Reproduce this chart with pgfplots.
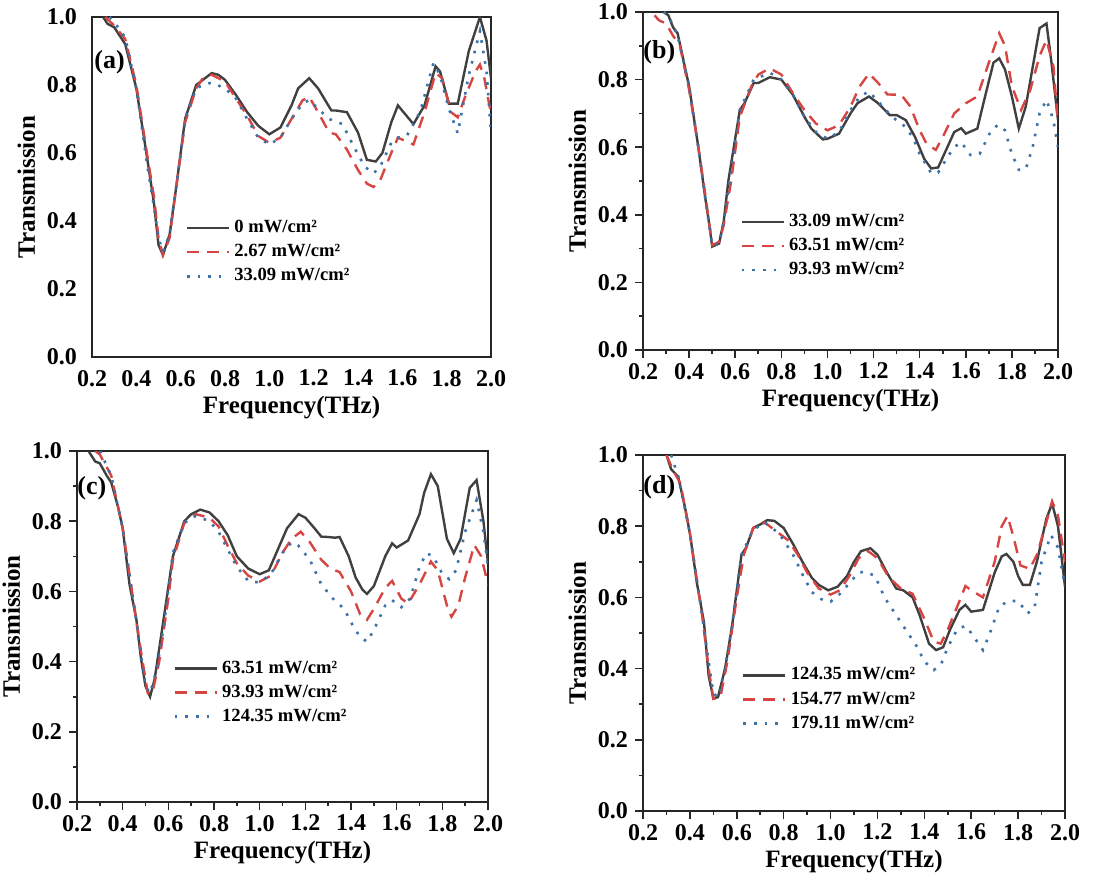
\documentclass[border=0pt]{standalone}
\usepackage{pgfplots}
\pgfplotsset{compat=1.18}
\usepackage{fontspec}
\setmainfont{Liberation Serif}

\definecolor{cblack}{HTML}{404040}
\definecolor{cred}{HTML}{D64541}
\definecolor{cblue}{HTML}{3C72AA}

\pgfplotsset{
  panel/.style={
    scale only axis,
    anchor=south west,
    xmin=0.2, xmax=2.0, ymin=0, ymax=1.0,
    xtick={0.2,0.4,...,2.01}, ytick={0,0.2,...,1.01},
    xtick pos=bottom, ytick pos=left,
    tick align=outside,
    minor tick num=1,
    major tick length=4pt, minor tick length=2pt,
    axis line style={line width=0.9pt, black!85},
    every tick/.style={line width=0.8pt, black!85},
    tick label style={font=\fontsize{12}{14}\selectfont\bfseries},
    xticklabel style={yshift=1pt},
    /pgf/number format/assume math mode=true,
    /pgf/number format/.cd, fixed, fixed zerofill, precision=1, /pgfplots/.cd,
    xlabel={Frequency(THz)}, ylabel={Transmission},
    label style={font=\fontsize{12.5}{14}\selectfont\bfseries},
    xlabel style={yshift=2pt},
    ylabel style={yshift=-1pt},
    legend cell align=left,
    legend style={at={(0.234,0.415)}, anchor=north west, draw=none, fill=none,
      font=\fontsize{9.3}{11}\selectfont\bfseries, inner sep=0pt,
      row sep=0.4pt},
    legend image code/.code={\draw[#1] (0pt,0pt) -- (21pt,0pt);},
    clip=true,
  },
  s1/.style={cblack, line width=1.2pt, solid},
  s2/.style={cred, line width=1.2pt, dash pattern=on 6pt off 4pt},
  s3/.style={cblue, line width=1.3pt, dash pattern=on 1.3pt off 4pt},
}

\begin{document}
\begin{tikzpicture}
\path[use as bounding box] (0,0) rectangle (556pt,439.5pt);

% (a) - no tick marks drawn in this panel
\begin{axis}[panel, at={(46pt,261pt)}, width=199.5pt, height=170pt,
  every tick/.style={draw=none}]
\addplot[s1] coordinates {(0.25,1.0) (0.27,0.98) (0.30,0.97) (0.35,0.92) (0.40,0.79) (0.45,0.58) (0.48,0.45) (0.50,0.33) (0.52,0.30) (0.55,0.36) (0.58,0.50) (0.62,0.70) (0.67,0.80) (0.70,0.815) (0.74,0.835) (0.77,0.83) (0.80,0.815) (0.85,0.77) (0.90,0.72) (0.95,0.68) (1.00,0.655) (1.05,0.675) (1.10,0.74) (1.13,0.79) (1.18,0.82) (1.22,0.79) (1.28,0.725) (1.30,0.725) (1.35,0.72) (1.40,0.66) (1.44,0.58) (1.48,0.575) (1.51,0.60) (1.55,0.69) (1.58,0.74) (1.65,0.685) (1.70,0.74) (1.75,0.855) (1.77,0.84) (1.81,0.745) (1.85,0.745) (1.90,0.90) (1.95,1.0) (1.98,0.93) (2.00,0.82)};
\addlegendentry{0 mW/cm²}
\addplot[s2] coordinates {(0.26,1.0) (0.30,0.975) (0.35,0.935) (0.40,0.80) (0.45,0.59) (0.48,0.47) (0.50,0.35) (0.52,0.30) (0.55,0.35) (0.58,0.50) (0.62,0.69) (0.67,0.79) (0.70,0.82) (0.74,0.83) (0.80,0.81) (0.85,0.76) (0.90,0.71) (0.95,0.65) (1.00,0.63) (1.05,0.645) (1.10,0.70) (1.15,0.755) (1.18,0.765) (1.22,0.72) (1.27,0.66) (1.30,0.655) (1.35,0.61) (1.40,0.55) (1.44,0.51) (1.47,0.50) (1.50,0.52) (1.55,0.60) (1.58,0.645) (1.65,0.625) (1.70,0.72) (1.75,0.835) (1.78,0.82) (1.82,0.72) (1.85,0.705) (1.88,0.76) (1.93,0.84) (1.95,0.86) (1.97,0.82) (2.00,0.715)};
\addlegendentry{2.67 mW/cm²}
\addplot[s3] coordinates {(0.28,1.0) (0.30,0.985) (0.35,0.94) (0.40,0.79) (0.45,0.56) (0.48,0.44) (0.50,0.35) (0.52,0.31) (0.55,0.36) (0.58,0.50) (0.62,0.70) (0.67,0.79) (0.70,0.80) (0.74,0.807) (0.80,0.79) (0.85,0.76) (0.90,0.70) (0.95,0.645) (1.00,0.625) (1.05,0.645) (1.10,0.70) (1.15,0.745) (1.18,0.756) (1.22,0.73) (1.27,0.70) (1.33,0.685) (1.38,0.62) (1.43,0.56) (1.47,0.54) (1.50,0.56) (1.55,0.63) (1.58,0.645) (1.62,0.65) (1.68,0.72) (1.74,0.864) (1.77,0.83) (1.81,0.73) (1.85,0.658) (1.90,0.83) (1.95,0.958) (1.98,0.84) (2.00,0.66)};
\addlegendentry{33.09 mW/cm²}
\node[font=\fontsize{13}{15}\selectfont\bfseries, anchor=west, inner sep=0pt] at (rel axis cs:0.005,0.868) {(a)};
\end{axis}

% (b)
\begin{axis}[panel, at={(321.5pt,264.5pt)}, width=207.5pt, height=169pt]
\addplot[s1] coordinates {(0.29,1.0) (0.31,0.99) (0.33,0.955) (0.35,0.937) (0.40,0.78) (0.44,0.60) (0.47,0.45) (0.49,0.36) (0.50,0.306) (0.53,0.315) (0.55,0.38) (0.57,0.50) (0.62,0.71) (0.64,0.73) (0.68,0.79) (0.70,0.79) (0.75,0.807) (0.80,0.80) (0.85,0.755) (0.90,0.69) (0.93,0.655) (0.98,0.623) (1.00,0.625) (1.05,0.64) (1.10,0.70) (1.13,0.73) (1.18,0.75) (1.22,0.73) (1.27,0.695) (1.30,0.695) (1.34,0.68) (1.38,0.63) (1.42,0.565) (1.45,0.537) (1.48,0.54) (1.52,0.60) (1.55,0.645) (1.58,0.656) (1.60,0.64) (1.65,0.655) (1.68,0.74) (1.72,0.85) (1.745,0.863) (1.77,0.83) (1.80,0.75) (1.83,0.655) (1.86,0.72) (1.92,0.952) (1.95,0.966) (1.97,0.86) (2.00,0.68)};
\addlegendentry{33.09 mW/cm²}
\addplot[s2] coordinates {(0.25,0.99) (0.27,0.975) (0.30,0.966) (0.33,0.93) (0.36,0.90) (0.40,0.77) (0.44,0.60) (0.47,0.46) (0.50,0.31) (0.53,0.32) (0.55,0.37) (0.58,0.49) (0.62,0.69) (0.67,0.78) (0.70,0.815) (0.75,0.833) (0.80,0.815) (0.85,0.76) (0.90,0.71) (0.95,0.67) (1.00,0.65) (1.05,0.665) (1.10,0.72) (1.14,0.78) (1.18,0.818) (1.22,0.79) (1.26,0.756) (1.32,0.755) (1.36,0.72) (1.40,0.65) (1.43,0.61) (1.47,0.592) (1.50,0.63) (1.55,0.70) (1.60,0.73) (1.65,0.75) (1.70,0.85) (1.745,0.937) (1.77,0.90) (1.80,0.78) (1.84,0.71) (1.88,0.77) (1.92,0.87) (1.95,0.917) (1.98,0.84) (2.00,0.67)};
\addlegendentry{63.51 mW/cm²}
\addplot[s3] coordinates {(0.29,1.0) (0.31,0.99) (0.35,0.93) (0.40,0.78) (0.44,0.60) (0.47,0.45) (0.50,0.31) (0.53,0.315) (0.55,0.38) (0.58,0.52) (0.62,0.71) (0.68,0.80) (0.75,0.82) (0.80,0.80) (0.85,0.755) (0.90,0.69) (0.95,0.645) (1.00,0.625) (1.05,0.645) (1.10,0.71) (1.14,0.75) (1.18,0.765) (1.22,0.735) (1.28,0.69) (1.33,0.665) (1.37,0.63) (1.40,0.58) (1.45,0.523) (1.48,0.525) (1.52,0.57) (1.55,0.60) (1.58,0.615) (1.62,0.577) (1.66,0.58) (1.71,0.65) (1.74,0.666) (1.77,0.65) (1.80,0.58) (1.83,0.533) (1.86,0.535) (1.89,0.60) (1.92,0.70) (1.95,0.74) (1.98,0.68) (2.00,0.60)};
\addlegendentry{93.93 mW/cm²}
\node[font=\fontsize{13}{15}\selectfont\bfseries, anchor=west, inner sep=0pt] at (rel axis cs:0.0,0.88) {(b)};
\end{axis}

% (c)
\begin{axis}[panel, at={(38.5pt,38.5pt)}, width=205.5pt, height=175.5pt]
\addplot[s1] coordinates {(0.25,1.0) (0.28,0.97) (0.30,0.965) (0.33,0.93) (0.35,0.91) (0.38,0.84) (0.40,0.78) (0.43,0.62) (0.46,0.52) (0.48,0.41) (0.50,0.33) (0.52,0.30) (0.54,0.35) (0.57,0.48) (0.62,0.70) (0.67,0.80) (0.70,0.82) (0.74,0.833) (0.78,0.825) (0.82,0.80) (0.86,0.76) (0.90,0.70) (0.95,0.665) (1.00,0.649) (1.04,0.66) (1.08,0.72) (1.12,0.78) (1.17,0.82) (1.20,0.81) (1.24,0.78) (1.27,0.756) (1.30,0.755) (1.33,0.753) (1.35,0.755) (1.39,0.70) (1.42,0.64) (1.45,0.605) (1.47,0.593) (1.50,0.615) (1.55,0.70) (1.58,0.737) (1.60,0.725) (1.65,0.745) (1.70,0.82) (1.72,0.88) (1.75,0.934) (1.78,0.90) (1.82,0.75) (1.85,0.709) (1.88,0.75) (1.92,0.895) (1.95,0.917) (1.98,0.80) (2.00,0.68)};
\addlegendentry{63.51 mW/cm²}
\addplot[s2] coordinates {(0.28,1.0) (0.30,0.99) (0.35,0.93) (0.40,0.78) (0.45,0.56) (0.48,0.43) (0.51,0.31) (0.53,0.31) (0.56,0.40) (0.60,0.58) (0.62,0.69) (0.67,0.795) (0.72,0.82) (0.78,0.81) (0.82,0.785) (0.86,0.73) (0.90,0.68) (0.95,0.645) (1.00,0.628) (1.05,0.645) (1.10,0.71) (1.14,0.75) (1.18,0.77) (1.22,0.74) (1.27,0.69) (1.31,0.665) (1.35,0.655) (1.40,0.60) (1.44,0.535) (1.47,0.519) (1.50,0.55) (1.55,0.61) (1.58,0.63) (1.62,0.58) (1.65,0.565) (1.70,0.62) (1.75,0.685) (1.78,0.66) (1.82,0.56) (1.84,0.528) (1.87,0.56) (1.90,0.64) (1.94,0.732) (1.97,0.70) (2.00,0.62)};
\addlegendentry{93.93 mW/cm²}
\addplot[s3] coordinates {(0.30,1.0) (0.35,0.93) (0.40,0.78) (0.45,0.56) (0.50,0.33) (0.52,0.31) (0.55,0.38) (0.58,0.50) (0.62,0.71) (0.67,0.795) (0.72,0.815) (0.78,0.80) (0.82,0.77) (0.86,0.72) (0.90,0.67) (0.95,0.63) (1.00,0.625) (1.05,0.65) (1.10,0.71) (1.14,0.74) (1.17,0.73) (1.22,0.69) (1.27,0.62) (1.32,0.58) (1.37,0.55) (1.41,0.50) (1.44,0.47) (1.47,0.457) (1.50,0.49) (1.55,0.56) (1.58,0.575) (1.62,0.555) (1.66,0.58) (1.70,0.67) (1.73,0.709) (1.76,0.70) (1.80,0.65) (1.83,0.635) (1.86,0.66) (1.90,0.77) (1.95,0.86) (1.98,0.77) (2.00,0.67)};
\addlegendentry{124.35 mW/cm²}
\node[font=\fontsize{13}{15}\selectfont\bfseries, anchor=west, inner sep=0pt] at (rel axis cs:0.0,0.895) {(c)};
\end{axis}

% (d)
\begin{axis}[panel, at={(321.5pt,34pt)}, width=211pt, height=178pt]
\addplot[s1] coordinates {(0.30,1.0) (0.32,0.96) (0.35,0.939) (0.38,0.85) (0.40,0.78) (0.43,0.64) (0.46,0.53) (0.48,0.38) (0.50,0.316) (0.52,0.32) (0.55,0.40) (0.58,0.52) (0.62,0.72) (0.64,0.74) (0.67,0.795) (0.70,0.805) (0.73,0.817) (0.76,0.815) (0.80,0.795) (0.84,0.75) (0.88,0.70) (0.92,0.655) (0.95,0.635) (0.99,0.62) (1.03,0.63) (1.07,0.66) (1.10,0.70) (1.13,0.73) (1.17,0.738) (1.20,0.72) (1.24,0.67) (1.28,0.625) (1.31,0.62) (1.35,0.60) (1.38,0.55) (1.42,0.47) (1.45,0.452) (1.48,0.46) (1.51,0.51) (1.55,0.565) (1.575,0.579) (1.60,0.56) (1.65,0.565) (1.70,0.67) (1.73,0.715) (1.75,0.722) (1.78,0.70) (1.80,0.66) (1.82,0.635) (1.85,0.635) (1.88,0.70) (1.92,0.82) (1.945,0.864) (1.97,0.80) (2.00,0.63)};
\addlegendentry{124.35 mW/cm²}
\addplot[s2] coordinates {(0.30,1.0) (0.33,0.955) (0.36,0.92) (0.40,0.78) (0.45,0.56) (0.48,0.40) (0.50,0.315) (0.53,0.32) (0.56,0.42) (0.60,0.60) (0.63,0.72) (0.67,0.795) (0.72,0.81) (0.78,0.78) (0.82,0.76) (0.86,0.72) (0.90,0.67) (0.95,0.625) (1.00,0.608) (1.04,0.62) (1.08,0.66) (1.12,0.71) (1.16,0.73) (1.20,0.71) (1.25,0.655) (1.30,0.625) (1.35,0.61) (1.40,0.54) (1.44,0.476) (1.47,0.47) (1.50,0.51) (1.55,0.59) (1.575,0.632) (1.60,0.62) (1.65,0.60) (1.70,0.70) (1.73,0.80) (1.755,0.829) (1.78,0.77) (1.81,0.69) (1.85,0.68) (1.88,0.72) (1.92,0.81) (1.945,0.87) (1.97,0.83) (2.00,0.70)};
\addlegendentry{154.77 mW/cm²}
\addplot[s3] coordinates {(0.32,1.0) (0.35,0.94) (0.40,0.78) (0.45,0.56) (0.48,0.42) (0.50,0.33) (0.52,0.32) (0.55,0.40) (0.58,0.52) (0.62,0.72) (0.67,0.79) (0.72,0.81) (0.78,0.78) (0.84,0.72) (0.88,0.665) (0.92,0.615) (0.96,0.595) (1.00,0.588) (1.04,0.61) (1.08,0.64) (1.12,0.67) (1.15,0.672) (1.19,0.66) (1.23,0.60) (1.28,0.55) (1.33,0.50) (1.37,0.46) (1.40,0.42) (1.44,0.396) (1.47,0.41) (1.50,0.46) (1.54,0.51) (1.575,0.52) (1.60,0.50) (1.65,0.452) (1.68,0.50) (1.72,0.575) (1.76,0.59) (1.80,0.59) (1.84,0.555) (1.87,0.57) (1.90,0.70) (1.94,0.775) (1.97,0.74) (2.00,0.63)};
\addlegendentry{179.11 mW/cm²}
\node[font=\fontsize{13}{15}\selectfont\bfseries, anchor=west, inner sep=0pt] at (rel axis cs:0.0,0.91) {(d)};
\end{axis}
\end{tikzpicture}
\end{document}
